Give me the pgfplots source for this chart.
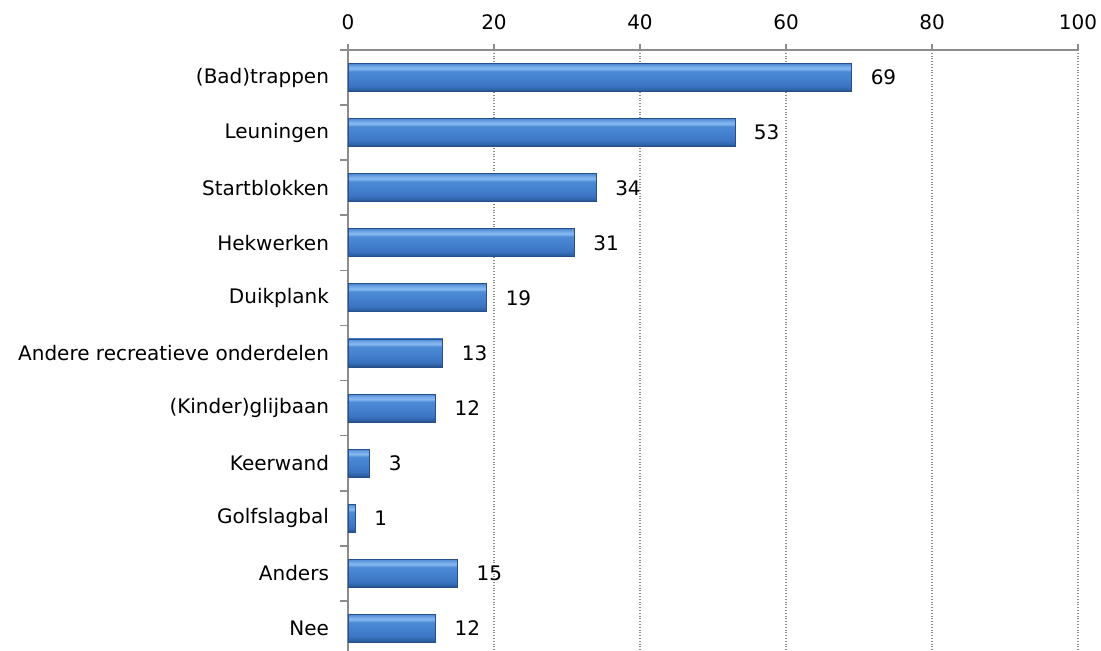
\documentclass[border=0pt]{standalone}
\usepackage{pgfplots}
\pgfplotsset{compat=1.18}
\usepackage{fontspec}
\setmainfont{DejaVu Sans}
\definecolor{axgray}{HTML}{8C8C8C}
\definecolor{sA}{HTML}{1F4A84}
\definecolor{sB}{HTML}{2F63A8}
\definecolor{sC}{HTML}{3B74C2}
\definecolor{sD}{HTML}{4582CF}
\definecolor{sE}{HTML}{4C8AD6}
\definecolor{sF}{HTML}{86BAF0}
\definecolor{sG}{HTML}{74A9E8}
\definecolor{sH}{HTML}{4D88D2}
\definecolor{barline}{HTML}{27508A}
\pgfdeclareverticalshading{barshade}{100bp}{
  color(0bp)=(sA);
  color(25bp)=(sA);
  color(29bp)=(sB);
  color(35bp)=(sC);
  color(50bp)=(sD);
  color(61bp)=(sE);
  color(66bp)=(sF);
  color(70bp)=(sG);
  color(75bp)=(sH);
  color(100bp)=(sH)}
\pgfplotsset{
  mybar/.style={xbar, bar width=14pt, bar shift=0pt, draw=barline, line width=0.4pt,
    shading=barshade,
    nodes near coords, nodes near coords align={horizontal},
    every node near coord/.append style={font=\fontsize{10pt}{12pt}\selectfont, black, xshift=6pt}},
}
\begin{document}
\fontsize{10pt}{12pt}\selectfont
\begin{tikzpicture}
\useasboundingbox (-174pt,-300.5pt) rectangle (376.5pt,25pt);
\begin{axis}[
  at={(0pt,0pt)}, anchor=north west,
  width=365pt, height=300.5pt, scale only axis,
  xmin=0, xmax=100,
  ymin=-0.5, ymax=10.41,
  y dir=reverse,
  axis x line*=top, axis y line*=left,
  axis line style={axgray, line width=1pt, -},
  xtick={0,20,...,100},
  every major x tick/.style={axgray, line width=0.8pt},
  major tick length=3pt,
  xticklabel style={font=\fontsize{10pt}{12pt}\selectfont, yshift=3.5pt},
  xmajorgrids,
  grid style={axgray, densely dotted, line width=0.6pt},
  ytick={0,...,10},
  yticklabels={(Bad)trappen,Leuningen,Startblokken,Hekwerken,Duikplank,Andere recreatieve onderdelen,(Kinder)glijbaan,Keerwand,Golfslagbal,Anders,Nee},
  yticklabel style={font=\fontsize{10pt}{12pt}\selectfont, xshift=-3pt},
  every major y tick/.style={draw=none},
  minor ytick={-0.5,0.5,...,9.5},
  minor tick length=4pt,
  every minor y tick/.style={axgray, line width=0.8pt},
  tick align=outside,
  /pgf/number format/assume math mode=true,
  clip=false,
]
\addplot[mybar] coordinates {(69,0)};
\addplot[mybar] coordinates {(53,1)};
\addplot[mybar] coordinates {(34,2)};
\addplot[mybar] coordinates {(31,3)};
\addplot[mybar] coordinates {(19,4)};
\addplot[mybar] coordinates {(13,5)};
\addplot[mybar] coordinates {(12,6)};
\addplot[mybar] coordinates {(3,7)};
\addplot[mybar] coordinates {(1,8)};
\addplot[mybar] coordinates {(15,9)};
\addplot[mybar] coordinates {(12,10)};
\end{axis}
\end{tikzpicture}
\end{document}
